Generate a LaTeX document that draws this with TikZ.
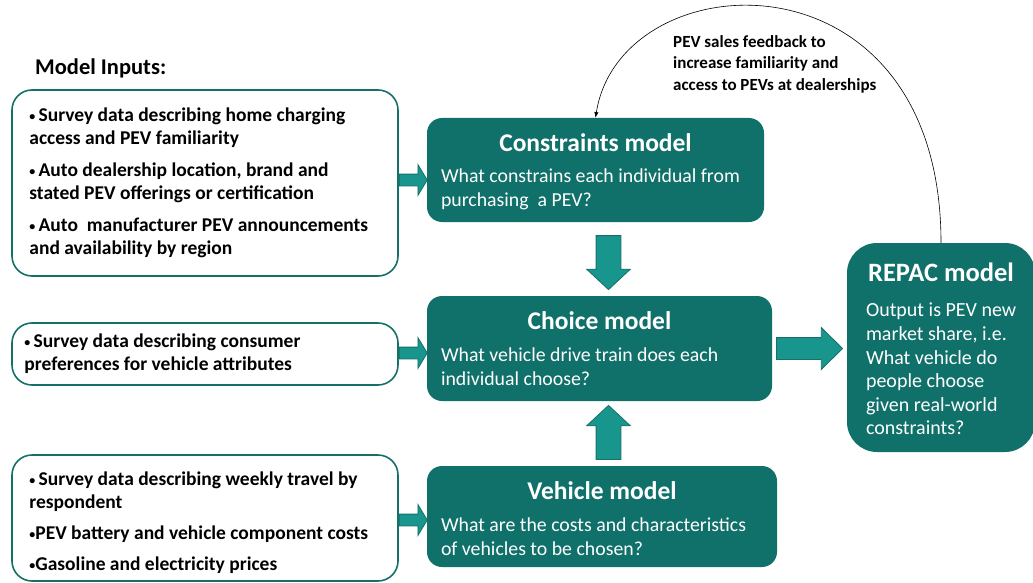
\documentclass[tikz,border=0pt]{standalone}
\usepackage{fontspec}
\setmainfont{Carlito}
\usetikzlibrary{arrows.meta,shapes.arrows,calc}
\definecolor{boxteal}{RGB}{16,112,106}
\definecolor{arrowteal}{RGB}{24,150,142}
\definecolor{edgeteal}{RGB}{20,112,104}
\newcommand{\arw}{-{Latex[length=2mm]}}
\newcommand{\bul}{\raisebox{1.5pt}{\fontsize{12}{12}\selectfont•}}

\begin{document}
\begin{tikzpicture}[x=1pt,y=-1pt,
  inbox/.style={draw=edgeteal,line width=1.6pt,rounded corners=20pt,minimum width=386pt},
  intext/.style={anchor=west,align=left,inner sep=0pt,font=\bfseries\fontsize{19.5}{23}\selectfont},
  model/.style={fill=boxteal,rounded corners=15pt},
  mtitle/.style={text=white,inner sep=0pt,font=\bfseries\fontsize{25.5}{28}\selectfont},
  mtext/.style={anchor=west,align=left,inner sep=0pt,text=white,font=\fontsize{19.8}{24}\selectfont},
  barrow/.style={single arrow,fill=arrowteal,draw=edgeteal,line width=0.8pt,single arrow head indent=0pt,anchor=tail},
  inarrow/.style={barrow,minimum height=28pt,inner sep=5.5pt,single arrow head extend=9.5pt,single arrow tip angle=118},
  bigarrow/.style={barrow,minimum height=54pt,inner sep=12pt,single arrow head extend=9.5pt,single arrow tip angle=94}]
\useasboundingbox (0,0) rectangle (1033,583);
\node[anchor=west,inner sep=0pt,font=\bfseries\fontsize{22.5}{26}\selectfont] (inputs) at (35,68) {Model Inputs:};
%input boxes
\node[inbox,minimum height=186pt] (in1) at (205,183) {};
\node[inbox,minimum height=62pt] (in2) at (205,354) {};
\node[inbox,minimum height=126pt] (in3) at (205,518) {};
\node[intext] (in1text) at ($(in1.west)+(18,0)$) {\bul\,Survey data describing home charging\\access and PEV familiarity\\[9pt]
  \bul\,Auto dealership location, brand and\\stated PEV offerings or certification\\[9pt]
  \bul\,Auto\ \ manufacturer PEV announcements\\and availability by region};
\node[intext] (in2text) at ($(in2.west)+(13,0)$) {\bul\,Survey data describing consumer\\preferences for vehicle attributes};
\node[intext] (in3text) at ($(in3.west)+(18,5)$) {\bul\,Survey data describing weekly travel by\\respondent\\[8pt]
  \bul PEV battery and vehicle component costs\\[8pt]
  \bul Gasoline and electricity prices};
%models
\node[model,minimum width=337pt,minimum height=104pt] (cons) at (595.5,170) {};
\node[model,minimum width=345pt,minimum height=105pt] (choice) at (599.5,348.5) {};
\node[model,minimum width=350pt,minimum height=101pt] (vehicle) at (602,516.5) {};
\node[model,rounded corners=30pt,minimum width=188pt,minimum height=209pt] (repac) at (941,347.5) {};
\node[mtitle] (constitle) at ($(cons.north)+(0,25)$) {Constraints model};
\node[mtext] (constext) at ($(cons.west)+(14,19)$) {What constrains each individual from\\purchasing\ \ a PEV?};
\node[mtitle] (choicetitle) at ($(choice.north)+(0,25)$) {Choice model};
\node[mtext] (choicetext) at ($(choice.west)+(14,18.5)$) {What vehicle drive train does each\\individual choose?};
\node[mtitle] (vehicletitle) at ($(vehicle.north)+(0,25)$) {Vehicle model};
\node[mtext] (vehicletext) at ($(vehicle.west)+(14,20.5)$) {What are the costs and characteristics\\of vehicles to be chosen?};
\node[mtitle,font=\bfseries\fontsize{26.5}{28}\selectfont] (repactitle) at ($(repac.north)+(0,29)$) {REPAC model};
\node[mtext,font=\fontsize{20}{23.6}\selectfont] (repactext) at ($(repac.west)+(19,21.5)$) {Output is PEV new\\market share, i.e.\\What vehicle do\\people choose\\given real-world\\constraints?};
%block arrows
\node[inarrow] (a1) at ($(in1.east)+(0,-3)$) {};
\node[inarrow] (a2) at ($(in2.east)+(0,-1)$) {};
\node[inarrow] (a3) at ($(in3.east)+(0,2)$) {};
\node[bigarrow,shape border rotate=270] (a4) at ($(cons.south)+(13,13)$) {};
\node[bigarrow,shape border rotate=90] (a5) at ($(vehicle.north)+(6.5,-6)$) {};
\node[barrow,minimum height=66pt,inner sep=10.5pt,single arrow head extend=10pt,single arrow tip angle=89] (a6) at ($(choice.east)+(4,0)$) {};
%feedback loop
\draw[line width=0.6pt,\arw] (repac.north) .. controls +(0,-300) and +(25,-158) .. (cons.north);
\node[anchor=north west,align=left,inner sep=0pt,font=\bfseries\fontsize{17}{21.5}\selectfont] (fbtext) at (673,35) {PEV sales feedback to\\increase familiarity and\\access to PEVs at dealerships};
\end{tikzpicture}
\end{document}
